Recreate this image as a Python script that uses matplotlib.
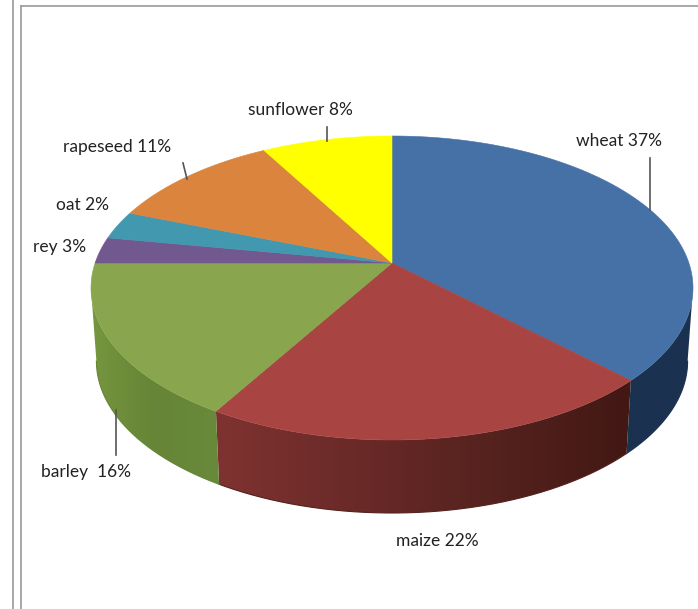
import matplotlib
matplotlib.use('Agg')
import matplotlib.pyplot as plt
from matplotlib.colors import LinearSegmentedColormap
from matplotlib.patches import PathPatch
from matplotlib.path import Path
import numpy as np

W, H = 698, 609
# rim of the top face is an ellipse, the tip of the slices sits above its centre
CX, CY = 392, 288
RX, RY = 301, 152
APEX_Y = 263
DEPTH = 73
BOTTOM_SCALE = 0.982

crops = ['wheat', 'maize', 'barley', 'rey', 'oat', 'rapeseed', 'sunflower']
# slice sizes as drawn in the picture, the printed labels only add up to 99
drawn_shares = [37.4, 21.1, 16.5, 2.8, 3.0, 11.0, 8.2]
top_colors = ['#4571A7', '#A84542', '#89A54E', '#71588F', '#4198AF', '#DB843D', '#FFFF00']
wall_colors = [['#1B3150', '#1B3150'],
               ['#7F3330', '#6A2A28', '#55221E', '#421814'],
               ['#76963F', '#668536', '#6A8A3B']]

label_texts = ['wheat 37%', 'maize 22%', 'barley  16%', 'rey 3%', 'oat 2%', 'rapeseed 11%', 'sunflower 8%']
label_pos = [(619, 141), (437, 541), (86, 472), (60, 247), (82, 205), (117, 147), (300, 110)]
leaders = [((650, 158), (650, 210)), ((116, 410), (116, 455)), ((327, 127), (327, 141)), ((183, 163), (187, 179))]
frame_lines = [((13, 13), (0, H)), ((21, 21), (6, H)), ((21, W), (6, 6))]

E = (CY - APEX_Y) / RY


def rim(pct):
    """Rim point in pixels for a position in percent, clockwise from the top."""
    a = np.radians(np.asarray(pct) * 3.6)
    u, v = np.sin(a), np.cos(a)
    # perspective: keeps the circle but moves its centre to the apex
    denom = 1 + E * v
    up = u * np.sqrt(1 - E ** 2) / denom
    vp = (v + E) / denom
    return up, vp


def to_px(up, vp, drop=0.0, scale=1.0):
    return CX + RX * up * scale, CY - RY * vp + drop


fig = plt.figure(figsize=(W / 100, H / 100), dpi=100)
ax = fig.add_axes([0, 0, 1, 1])

edges = np.concatenate([[0], np.cumsum(drawn_shares)])

# side wall first, only the part facing the viewer
for i in range(len(wall_colors)):
    pct = np.linspace(edges[i], edges[i + 1], 300)
    up, vp = rim(pct)
    keep = vp <= 0
    up, vp = up[keep], vp[keep]
    xt, yt = to_px(up, vp)
    xb, yb = to_px(up, vp, DEPTH, BOTTOM_SCALE)
    xs = np.concatenate([xt, xb[::-1]])
    ys = np.concatenate([yt, yb[::-1]])
    verts = np.column_stack([xs, ys])
    patch = PathPatch(Path(np.vstack([verts, verts[0]]), closed=True), fc='none', ec='none')
    ax.add_patch(patch)
    cmap = LinearSegmentedColormap.from_list(crops[i], wall_colors[i])
    im = ax.imshow(np.linspace(0, 1, 256)[None, :], cmap=cmap, aspect='auto', zorder=2,
                   extent=(xs.min() - 1, xs.max() + 1, ys.max() + 1, ys.min() - 1))
    im.set_clip_path(patch)
    # thin outline hides the hard clip edge
    ax.plot(xb, yb, color=wall_colors[i][len(wall_colors[i]) // 2], lw=0.8, zorder=2)

# top face
for i in range(len(crops)):
    pct = np.linspace(edges[i], edges[i + 1], 200)
    x, y = to_px(*rim(pct))
    ax.fill(np.r_[CX, x], np.r_[APEX_Y, y], color=top_colors[i], lw=0.4, zorder=3)

for (x, y), s in zip(label_pos, label_texts):
    ax.text(x, y, s, ha='center', va='center', fontsize=12.5, family='Lato', color='#222222')

for p0, p1 in leaders:
    ax.plot([p0[0], p1[0]], [p0[1], p1[1]], color='#555555', lw=1.2, zorder=4)

for xs, ys in frame_lines:
    ax.plot(xs, ys, color='#999999', lw=1.2)

ax.set_xlim(0, W)
ax.set_ylim(H, 0)
ax.axis('off')

fig.savefig('out.png', dpi=100)
